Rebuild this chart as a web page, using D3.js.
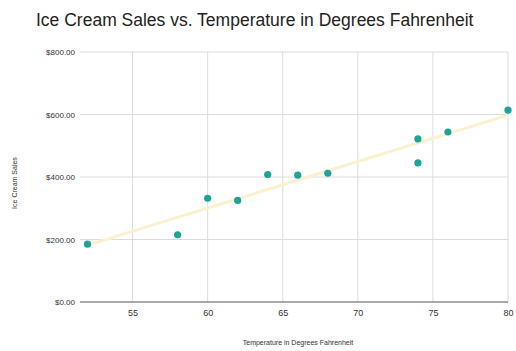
<!DOCTYPE html>
<html>
<head>
<meta charset="utf-8">
<script src="https://cdn.jsdelivr.net/npm/d3@7"></script>
<style>
  body { margin: 0; background: #fff; }
  text { font-family: "Liberation Sans", Arial, sans-serif; }
</style>
</head>
<body>
<div id="wrapper"></div>
<script>
/* data */
const temps = [52, 58, 60, 62, 64, 66, 68, 74, 74, 76, 80];
const sales = [185, 215, 332, 325, 408, 406, 412, 522, 445, 544, 614];
const xTicks = [55, 60, 65, 70, 75, 80];
const yTicks = [0, 200, 400, 600, 800];

const dataset = temps.map((t, i) => ({ temp: t, sales: sales[i] }));

/* dimensions */
const dimensions = {
  width: 516,
  height: 351,
  margin: { top: 52, right: 8, bottom: 49, left: 80 },
};
dimensions.boundedWidth = dimensions.width - dimensions.margin.left - dimensions.margin.right;
dimensions.boundedHeight = dimensions.height - dimensions.margin.top - dimensions.margin.bottom;

const wrapper = d3.select("#wrapper")
  .append("svg")
  .attr("width", dimensions.width)
  .attr("height", dimensions.height);

const bounds = wrapper.append("g")
  .attr("transform", `translate(${dimensions.margin.left},${dimensions.margin.top})`);

/* scales */
const xScale = d3.scaleLinear()
  .domain([51.5, 80])
  .range([0, 428]);

const yScale = d3.scaleLinear()
  .domain([0, 800])
  .range([dimensions.boundedHeight, 0]);

/* grid */
bounds.append("g")
  .selectAll("line")
  .data(yTicks.filter(d => d > 0))
  .join("line")
  .attr("x1", 0)
  .attr("x2", xScale(80))
  .attr("y1", d => yScale(d))
  .attr("y2", d => yScale(d))
  .attr("stroke", "#dcdcdc")
  .attr("stroke-width", 1);

bounds.append("g")
  .selectAll("line")
  .data(xTicks)
  .join("line")
  .attr("x1", d => xScale(d))
  .attr("x2", d => xScale(d))
  .attr("y1", 0)
  .attr("y2", dimensions.boundedHeight)
  .attr("stroke", "#dcdcdc")
  .attr("stroke-width", 1);

/* baseline */
bounds.append("line")
  .attr("x1", 0)
  .attr("x2", xScale(80))
  .attr("y1", yScale(0))
  .attr("y2", yScale(0))
  .attr("stroke", "#555")
  .attr("stroke-width", 1);

/* axes labels */
const yAxis = d3.axisLeft(yScale)
  .tickValues(yTicks)
  .tickSize(0)
  .tickPadding(5)
  .tickFormat(d => "$" + d3.format(".2f")(d));
const yAxisG = bounds.append("g").call(yAxis);
yAxisG.select(".domain").remove();
yAxisG.selectAll("text")
  .attr("fill", "#333")
  .style("font-size", "8px");

const xAxis = d3.axisBottom(xScale)
  .tickValues(xTicks)
  .tickSize(0)
  .tickPadding(8);
const xAxisG = bounds.append("g")
  .attr("transform", `translate(0,${dimensions.boundedHeight})`)
  .call(xAxis);
xAxisG.select(".domain").remove();
xAxisG.selectAll("text")
  .attr("fill", "#333")
  .style("font-size", "9px");

/* trendline (least squares) */
const mx = d3.mean(dataset, d => d.temp);
const my = d3.mean(dataset, d => d.sales);
const slope = d3.sum(dataset, d => (d.temp - mx) * (d.sales - my)) /
  d3.sum(dataset, d => (d.temp - mx) * (d.temp - mx));
const intercept = my - slope * mx;
const xExt = d3.extent(temps);

bounds.append("line")
  .attr("x1", xScale(xExt[0]))
  .attr("x2", xScale(xExt[1]))
  .attr("y1", yScale(intercept + slope * xExt[0]))
  .attr("y2", yScale(intercept + slope * xExt[1]))
  .attr("stroke", "#fcf1cf")
  .attr("stroke-width", 3);

/* points */
bounds.selectAll("circle")
  .data(dataset)
  .join("circle")
  .attr("cx", d => xScale(d.temp))
  .attr("cy", d => yScale(d.sales))
  .attr("r", 3.6)
  .attr("fill", "#1fa396");

/* titles */
wrapper.append("text")
  .attr("x", 36)
  .attr("y", 26)
  .attr("fill", "#222")
  .style("font-size", "17.5px")
  .text("Ice Cream Sales  vs. Temperature in Degrees Fahrenheit");

wrapper.append("text")
  .attr("transform", `translate(17,183) rotate(-90)`)
  .attr("text-anchor", "middle")
  .attr("fill", "#333")
  .style("font-size", "7px")
  .text("Ice Cream Sales");

wrapper.append("text")
  .attr("x", 298)
  .attr("y", 345)
  .attr("text-anchor", "middle")
  .attr("fill", "#333")
  .style("font-size", "7px")
  .text("Temperature in Degrees Fahrenheit");
</script>
</body>
</html>
